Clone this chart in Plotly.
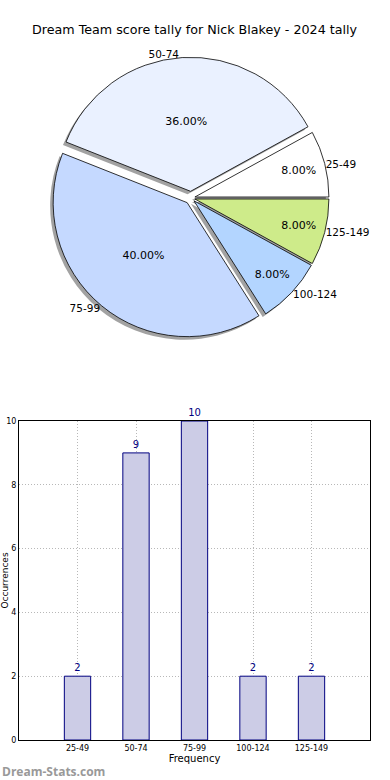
import plotly.graph_objects as go

title = "Dream Team score tally for Nick Blakey - 2024 tally"
categories = ["25-49", "50-74", "75-99", "100-124", "125-149"]
counts = [2, 9, 10, 2, 2]
pie_colors = ["#FFFFFF", "#EAF1FF", "#C5D9FF", "#B3D5FF", "#CEEB8A"]
pulls = [0.03, 0.05, 0.045, 0.03, 0.03]
y_ticks = [0, 2, 4, 6, 8, 10]
x_title = "Frequency"
y_title = "Occurrences"
watermark = "Dream-Stats.com"

W, H = 390, 780
FONT = "DejaVu Sans"

def px_dom_x(a, b):
    return [a / W, b / W]

def px_dom_y(top, bottom):
    return [1 - bottom / H, 1 - top / H]

# first slice starts at 3 o'clock and runs counterclockwise (matplotlib style)
rotation = 90 - 360 * counts[0] / sum(counts)

cx, cy = 191, 198
radius = 134
half = radius * (1 + max(pulls))
dx = px_dom_x(cx - half, cx + half)
dy = px_dom_y(cy - half, cy + half)
sdx = px_dom_x(cx - half - 3, cx + half - 3)
sdy = px_dom_y(cy - half + 3, cy + half + 3)
lhalf = half * 0.985
ldx = px_dom_x(cx - lhalf, cx + lhalf)
ldy = px_dom_y(cy - lhalf, cy + lhalf)

fig = go.Figure()

common = dict(labels=categories, values=counts, sort=False, direction="counterclockwise",
              rotation=rotation, pull=pulls, showlegend=False)

# shadow
fig.add_trace(go.Pie(
    **common, domain=dict(x=sdx, y=sdy),
    marker=dict(colors=["rgba(100,100,100,0.6)"] * len(counts), line=dict(width=0)),
    textinfo="none", hoverinfo="skip",
))
# main pie with percentages
fig.add_trace(go.Pie(
    **common, domain=dict(x=dx, y=dy),
    marker=dict(colors=pie_colors, line=dict(color="#000000", width=0.8)),
    texttemplate="%{percent:.2%}", textposition="inside",
    insidetextorientation="horizontal",
    textfont=dict(family=FONT, size=11, color="#000000"),
))
# outside labels (transparent copy of the pie)
fig.add_trace(go.Pie(
    **common, domain=dict(x=ldx, y=ldy),
    marker=dict(colors=["rgba(0,0,0,0)"] * len(counts), line=dict(width=0)),
    textinfo="label", textposition="outside",
    textfont=dict(family=FONT, size=10.5, color="#000000"),
    hoverinfo="skip",
))

# bar chart
fig.add_trace(go.Bar(
    x=categories, y=counts, width=0.45,
    marker=dict(color="#CCCCE6", line=dict(color="#000080", width=1)),
    text=[str(c) for c in counts], textposition="outside",
    textfont=dict(family=FONT, size=10, color="#000080"),
    cliponaxis=False, showlegend=False, xaxis="x", yaxis="y",
))

grid = dict(showgrid=True, gridcolor="#B8B8B8", griddash="1px,2px", gridwidth=1)

fig.update_layout(
    width=W, height=H, autosize=False,
    margin=dict(l=0, r=0, t=0, b=0),
    paper_bgcolor="#FFFFFF", plot_bgcolor="#FFFFFF",
    font=dict(family=FONT, color="#000000"),
    xaxis=dict(domain=px_dom_x(19, 370), range=[-1, 5], type="category",
               automargin=False, **grid,
               showline=True, linecolor="#000000", linewidth=1, mirror=True,
               ticks="", tickfont=dict(family=FONT, size=8, color="#000000"),
               title=dict(text=x_title, font=dict(family=FONT, size=10), standoff=2),
               zeroline=False),
    yaxis=dict(domain=px_dom_y(421, 740), range=[0, 10], tickvals=y_ticks,
               automargin=False, **grid,
               showline=True, linecolor="#000000", linewidth=1, mirror=True,
               ticks="", tickfont=dict(family=FONT, size=8, color="#000000"),
               title=dict(text=y_title, font=dict(family=FONT, size=9), standoff=2),
               zeroline=False),
    annotations=[
        dict(text=title, xref="paper", yref="paper", x=0.5, y=1 - 30 / H,
             xanchor="center", yanchor="middle", showarrow=False,
             font=dict(family=FONT, size=12.7, color="#000000")),
        dict(text="<b>" + watermark + "</b>", xref="paper", yref="paper", x=0, y=1 - 771 / H,
             xanchor="left", yanchor="middle", showarrow=False,
             font=dict(family="Open Sans", size=12, color="#999999")),
    ],
)

fig.write_html(
    "out.html",
    config={"displayModeBar": False, "responsive": False},
    post_script="document.body.style.margin='0';document.body.style.padding='0';",
)
